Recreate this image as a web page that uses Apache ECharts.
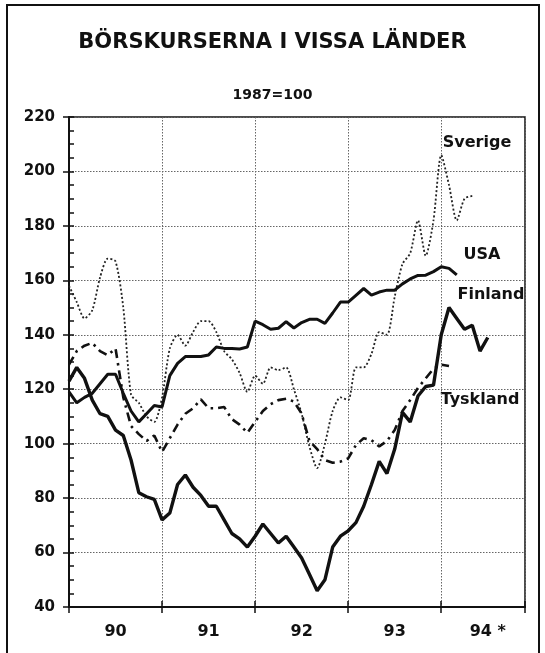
<!DOCTYPE html>
<html>
<head>
<meta charset="utf-8">
<script src="https://cdn.jsdelivr.net/npm/echarts@6/dist/echarts.min.js"></script>
<style>
html,body{margin:0;padding:0;background:#fff;}
#c{width:545px;height:653px;}
</style>
</head>
<body>
<div id="c"></div>
<script>
// Monthly index values from January 1990 (1987=100)
const startYear = 1990;
const yearLabels = ['90', '91', '92', '93', '94 *'];
const sverige = [158,152,146,149,161,168,167,150,118,115,110,108,117,135,140,136,141,145,145,141,134,131,126,119,125,122,128,127,128,120,111,99,91,100,112,117,116,128,128,133,141,140,154,166,170,182,169,182,206,195,182,190,191];
const usa = [119,115,117,118.5,122,125.5,125.5,118.5,112,108,111,114,113.5,125,129.5,132,132,132,132.6,135.5,135,135,134.8,135.5,145,143.7,142,142.4,144.8,142.5,144.5,145.7,145.7,144.2,148,152,152,154.5,157,154.6,155.7,156.4,156.4,158.7,160.5,161.8,161.9,163.2,165,164.4,162];
const finland = [123,128,124,116,111,110,105,103,94,82,80.5,79.5,72,74.5,85,88.5,84,81,77,77,72,67,65,62,66,70.5,67,63.5,66,62,58,52,46,50,62,66,68,71,77,85,93.5,89,98,111.5,108,117.5,121,121.5,140,150,146,142,143.5,134,139];
const tyskland = [129,134,136,137,134,132.5,135,117,106.5,103.5,101,103,97,102,107,111,113,116.3,113,113,113.5,109,107,104,108,112,114.5,116,116.5,115.5,111,101,98,94,93,93.4,94.6,99.5,102,101.3,99,101,105,112,116,120.5,124,127.5,129,128.5];

function toPoints(arr){ return arr.map((v,i)=>[startYear + i/12, v]); }

const FONT = 'DejaVu Sans';
const chart = echarts.init(document.getElementById('c'), null, {renderer:'canvas'});
const xMin = 1990, xMax = 1994.9;

chart.setOption({
  animation:false,
  backgroundColor:'#fff',
  title:[
    {text:'BÖRSKURSERNA I VISSA LÄNDER', left:'center', top:27,
     textStyle:{fontFamily:FONT, fontWeight:'bold', fontSize:21, color:'#111'}},
    {text:'1987=100', left:'center', top:83,
     textStyle:{fontFamily:FONT, fontWeight:'bold', fontSize:14, color:'#111'}}
  ],
  grid:{left:69, right:20, top:117, bottom:46, show:true, borderColor:'#111', borderWidth:1.5, backgroundColor:'transparent'},
  xAxis:[
    {type:'value', min:xMin, max:xMax, interval:1,
     axisLine:{show:true, lineStyle:{color:'#111', width:2}},
     axisTick:{show:true, length:6, lineStyle:{color:'#111', width:1.5}},
     axisLabel:{show:false},
     splitLine:{show:true, lineStyle:{color:'#666', type:[1.5,1.5], width:1}}},
    {type:'value', min:xMin-0.5, max:xMax-0.5, interval:0.5, position:'bottom',
     axisLine:{show:false}, axisTick:{show:false}, splitLine:{show:false},
     axisLabel:{show:true, margin:17, hideOverlap:false,
       fontFamily:FONT, fontWeight:'bold', fontSize:16, color:'#111',
       formatter:(v)=>{ if (Math.abs(v-Math.round(v))>0.01) return ''; const i=Math.round(v)-startYear; return yearLabels[i]||'';}}},
    {type:'value', min:xMin, max:xMax, interval:1, position:'bottom',
     axisLine:{show:false}, splitLine:{show:false}, axisLabel:{show:false},
     axisTick:{show:true, inside:true, length:6, lineStyle:{color:'#111', width:1.5}}}
  ],
  yAxis:[
    {type:'value', min:40, max:220, interval:20,
     axisLine:{show:true, lineStyle:{color:'#111', width:2}},
     axisTick:{show:true, inside:true, length:5, lineStyle:{color:'#111', width:1.5}},
     minorTick:{show:true, splitNumber:4, length:5, lineStyle:{color:'#111', width:1.5}},
     axisLabel:{margin:14, fontFamily:FONT, fontWeight:'bold', fontSize:15, color:'#111'},
     splitLine:{show:true, lineStyle:{color:'#666', type:[1.5,1.5], width:1}}},
    {type:'value', min:40, max:220, interval:20, position:'left',
     axisLine:{show:false}, axisLabel:{show:false}, splitLine:{show:false},
     axisTick:{show:true, length:6, lineStyle:{color:'#111', width:1.5}}}
  ],
  series:[
    {name:'Sverige', type:'line', data:toPoints(sverige), symbol:'none', smooth:0.25,
     lineStyle:{color:'#222', width:1.8, type:[2,2.2]}},
    {name:'Tyskland', type:'line', data:toPoints(tyskland), symbol:'none',
     lineStyle:{color:'#111', width:2.6, type:[9,5,2.5,5]}},
    {name:'USA', type:'line', data:toPoints(usa), symbol:'none',
     lineStyle:{color:'#111', width:3}},
    {name:'Finland', type:'line', data:toPoints(finland), symbol:'none',
     lineStyle:{color:'#111', width:3.4}}
  ],
  graphic:[
    {type:'rect', shape:{x:7, y:5, width:532, height:670}, style:{fill:'none', stroke:'#111', lineWidth:2}, silent:true},
    {type:'text', x:477, y:143, style:{text:'Sverige', align:'center', verticalAlign:'middle', font:'bold 16px "DejaVu Sans"', fill:'#111'}},
    {type:'text', x:482, y:255, style:{text:'USA', align:'center', verticalAlign:'middle', font:'bold 16px "DejaVu Sans"', fill:'#111'}},
    {type:'text', x:491, y:295, style:{text:'Finland', align:'center', verticalAlign:'middle', font:'bold 16px "DejaVu Sans"', fill:'#111'}},
    {type:'text', x:480, y:400, style:{text:'Tyskland', align:'center', verticalAlign:'middle', font:'bold 16px "DejaVu Sans"', fill:'#111'}}
  ]
});
</script>
</body>
</html>
